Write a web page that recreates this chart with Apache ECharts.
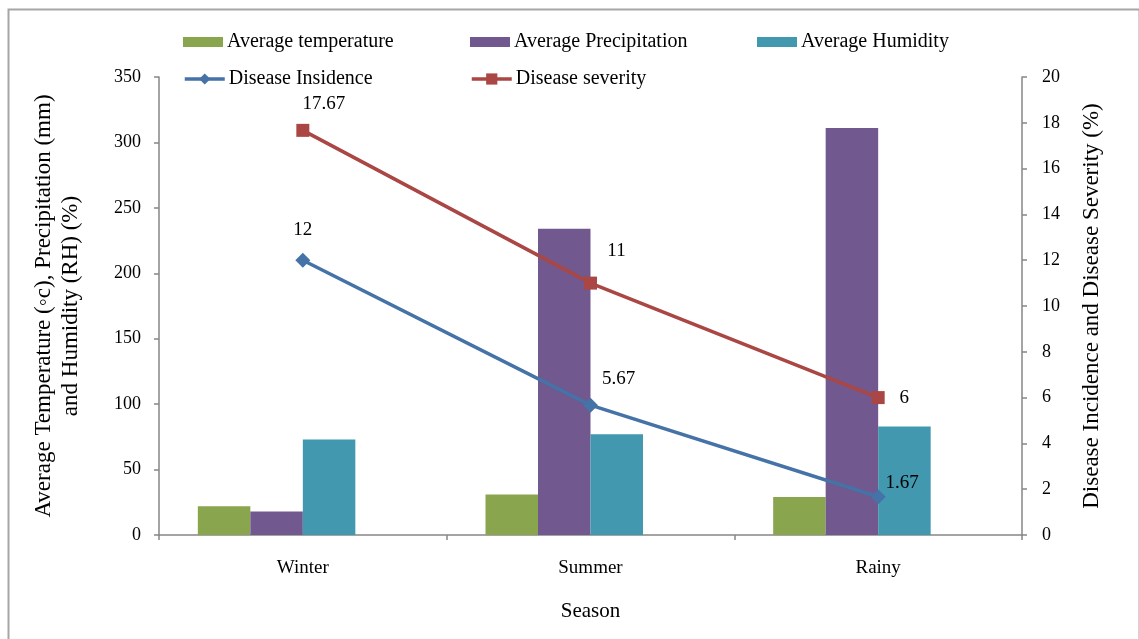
<!DOCTYPE html>
<html>
<head>
<meta charset="utf-8">
<script src="https://cdn.jsdelivr.net/npm/echarts@6/dist/echarts.min.js"></script>
<style>
  html, body { margin: 0; padding: 0; background: #fff; }
  #chart { width: 1139px; height: 639px; }
</style>
</head>
<body>
<div id="chart"></div>
<script>
// Seasonal weather and disease data
const seasons = ['Winter', 'Summer', 'Rainy'];
const avgTemperature = [22, 31, 29];
const avgPrecipitation = [18, 234, 311];
const avgHumidity = [73, 77, 83];
const diseaseIncidence = [12, 5.67, 1.67];
const diseaseSeverity = [17.67, 11, 6];

const FONT = 'Liberation Serif';
const AXIS_GRAY = '#868686';

// Where each point label sits relative to its marker
const incidenceLabelOffsets = [[0, -30], [28, -26], [24, -14]];
const severityLabelOffsets = [[21, -26], [26, -32], [26, 0]];

function withLabels(values, offsets) {
  return values.map((v, i) => ({
    value: v,
    label: { offset: offsets[i] }
  }));
}

const labelText = { fontFamily: FONT, fontSize: 19, color: '#000' };

function legendAt(name, left, top, icon) {
  const l = {
    data: [name],
    left: left,
    top: top,
    itemWidth: 40,
    itemHeight: icon ? 10 : 14,
    itemGap: 0,
    padding: 0,
    textStyle: { fontFamily: FONT, fontSize: 20, color: '#000', padding: [0, 0, 0, -1] },
    selectedMode: false
  };
  if (icon) l.icon = icon;
  else l.lineStyle = { width: 3.5 };
  return l;
}

const chart = echarts.init(document.getElementById('chart'), null, { renderer: 'canvas' });

const option = {
  backgroundColor: '#fff',
  animation: false,
  graphic: [{
    type: 'rect',
    left: 6, top: 7,
    shape: { width: 1131, height: 640 },
    style: { fill: 'none', stroke: '#a6a6a6', lineWidth: 2 },
    silent: true
  }],
  legend: [
    legendAt('Average temperature', 183, 32, 'rect'),
    legendAt('Average Precipitation', 470, 32, 'rect'),
    legendAt('Average Humidity', 757, 32, 'rect'),
    legendAt('Disease Insidence', 183, 69),
    legendAt('Disease severity', 470, 69)
  ],
  grid: { left: 159, right: 117, top: 77, bottom: 104 },
  xAxis: {
    type: 'category',
    data: seasons,
    boundaryGap: true,
    name: 'Season',
    nameLocation: 'middle',
    nameGap: 66,
    nameTextStyle: { fontFamily: FONT, fontSize: 21, color: '#000' },
    axisLine: { lineStyle: { color: AXIS_GRAY, width: 1.5 } },
    axisTick: { show: true, length: 5, lineStyle: { color: AXIS_GRAY, width: 1.5 } },
    axisLabel: { fontFamily: FONT, fontSize: 19, color: '#000', margin: 24 },
    splitLine: { show: false }
  },
  yAxis: [{
    type: 'value',
    min: 0, max: 350, interval: 50,
    name: 'Average Temperature (\u25e6c), Precipitation (mm)\nand Humidity (RH) (%)',
    nameLocation: 'middle',
    nameGap: 75,
    nameTextStyle: { fontFamily: FONT, fontSize: 23, color: '#000', lineHeight: 27 },
    axisLine: { show: true, lineStyle: { color: AXIS_GRAY, width: 1.5 } },
    axisTick: { show: true, length: 5, lineStyle: { color: AXIS_GRAY, width: 1.5 } },
    axisLabel: { fontFamily: FONT, fontSize: 18, color: '#000', margin: 18 },
    splitLine: { show: false }
  }, {
    type: 'value',
    position: 'right',
    min: 0, max: 20, interval: 2,
    name: 'Disease Incidence and Disease Severity (%)',
    nameLocation: 'middle',
    nameGap: 58,
    nameTextStyle: { fontFamily: FONT, fontSize: 23, color: '#000' },
    axisLine: { show: true, lineStyle: { color: AXIS_GRAY, width: 1.5 } },
    axisTick: { show: true, length: 5, lineStyle: { color: AXIS_GRAY, width: 1.5 } },
    axisLabel: { fontFamily: FONT, fontSize: 18, color: '#000', margin: 20 },
    splitLine: { show: false }
  }],
  series: [{
    name: 'Average temperature',
    type: 'bar',
    data: avgTemperature,
    barGap: 0,
    barCategoryGap: '27%',
    itemStyle: { color: '#89A54E' }
  }, {
    name: 'Average Precipitation',
    type: 'bar',
    data: avgPrecipitation,
    itemStyle: { color: '#71588F' }
  }, {
    name: 'Average Humidity',
    type: 'bar',
    data: avgHumidity,
    itemStyle: { color: '#4198AF' }
  }, {
    // empty slot that keeps the bar group shifted left of the category centre
    name: 'blank',
    type: 'bar',
    data: [],
    itemStyle: { color: 'transparent' }
  }, {
    name: 'Disease Insidence',
    type: 'line',
    yAxisIndex: 1,
    data: withLabels(diseaseIncidence, incidenceLabelOffsets),
    symbol: 'diamond',
    symbolSize: 15,
    lineStyle: { color: '#4572A7', width: 3.5 },
    itemStyle: { color: '#4572A7' },
    label: { show: true, position: 'inside', ...labelText },
    z: 5
  }, {
    name: 'Disease severity',
    type: 'line',
    yAxisIndex: 1,
    data: withLabels(diseaseSeverity, severityLabelOffsets),
    symbol: 'rect',
    symbolSize: 13,
    lineStyle: { color: '#AA4643', width: 3.5 },
    itemStyle: { color: '#AA4643' },
    label: { show: true, position: 'inside', ...labelText },
    z: 5
  }]
};

chart.setOption(option);
</script>
</body>
</html>
